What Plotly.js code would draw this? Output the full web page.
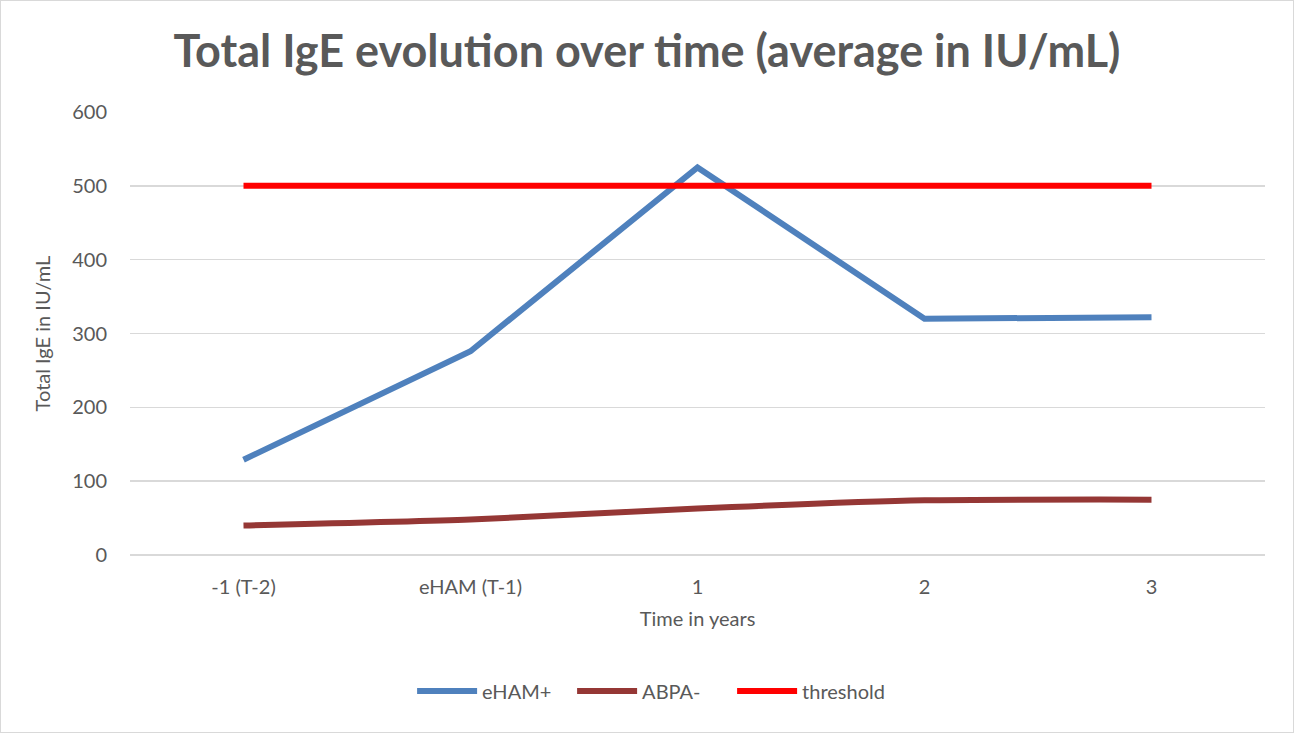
<!DOCTYPE html>
<html>
<head>
<meta charset="utf-8">
<script src="https://cdn.plot.ly/plotly-3.0.1.min.js"></script>
<style>
html,body{margin:0;padding:0;background:#fff;}
#chart{width:1294px;height:733px;}
</style>
</head>
<body>
<div id="chart"></div>
<script>
const categories = ["-1 (T-2)", "eHAM (T-1)", "1", "2", "3"];
const eHAMplus = [129, 276, 525, 320, 322];
const ABPAminus = [40, 48, 63, 74, 75];
const threshold = [500, 500, 500, 500, 500];

const font = "Lato, 'Open Sans', sans-serif";
const grey = "#595959";

const traces = [
  {x: categories, y: eHAMplus, name: "eHAM+", type: "scatter", mode: "lines",
   line: {color: "#4f81bd", width: 6}},
  {x: categories, y: ABPAminus, name: "ABPA-", type: "scatter", mode: "lines",
   line: {color: "#953735", width: 6, shape: "spline", smoothing: 0.6}},
  {x: categories, y: threshold, name: "threshold", type: "scatter", mode: "lines",
   line: {color: "#ff0000", width: 6}}
];

const layout = {
  width: 1294, height: 733,
  paper_bgcolor: "#fff", plot_bgcolor: "#fff",
  margin: {l: 130, r: 29, t: 112, b: 178},
  font: {family: font, color: grey, size: 20},
  title: {text: "<b>Total IgE evolution over time (average in IU/mL)</b>",
          font: {family: font, size: 45, color: grey},
          x: 0.5, xanchor: "center", y: 0.93, yanchor: "middle"},
  xaxis: {type: "category", range: [-0.5, 4.5], showgrid: false, zeroline: false, showline: false,
          ticks: "", tickfont: {size: 20, color: grey}, ticklabelstandoff: 18,
          title: {text: "Time in years", font: {size: 20, color: grey}, standoff: 14},
          fixedrange: true},
  yaxis: {range: [0, 600], dtick: 100, showgrid: true, gridcolor: "#d9d9d9", gridwidth: 1.5,
          zeroline: true, zerolinecolor: "#d9d9d9", zerolinewidth: 1.5, showline: false,
          ticks: "", tickfont: {size: 20, color: grey}, ticklabelstandoff: 22,
          title: {text: "Total IgE in IU/mL", font: {size: 20, color: grey}, standoff: 16},
          fixedrange: true},
  legend: {orientation: "h", x: 0.46, xanchor: "center", y: -0.307, yanchor: "middle",
           font: {size: 20, color: grey}, itemwidth: 60, entrywidth: 85},
  showlegend: true
};

Plotly.newPlot("chart", traces, layout, {displayModeBar: false, staticPlot: true});
</script>
<div style="position:absolute;left:0;top:0;width:1292px;height:731px;border:1px solid #d9d9d9;pointer-events:none;"></div>
</body>
</html>
